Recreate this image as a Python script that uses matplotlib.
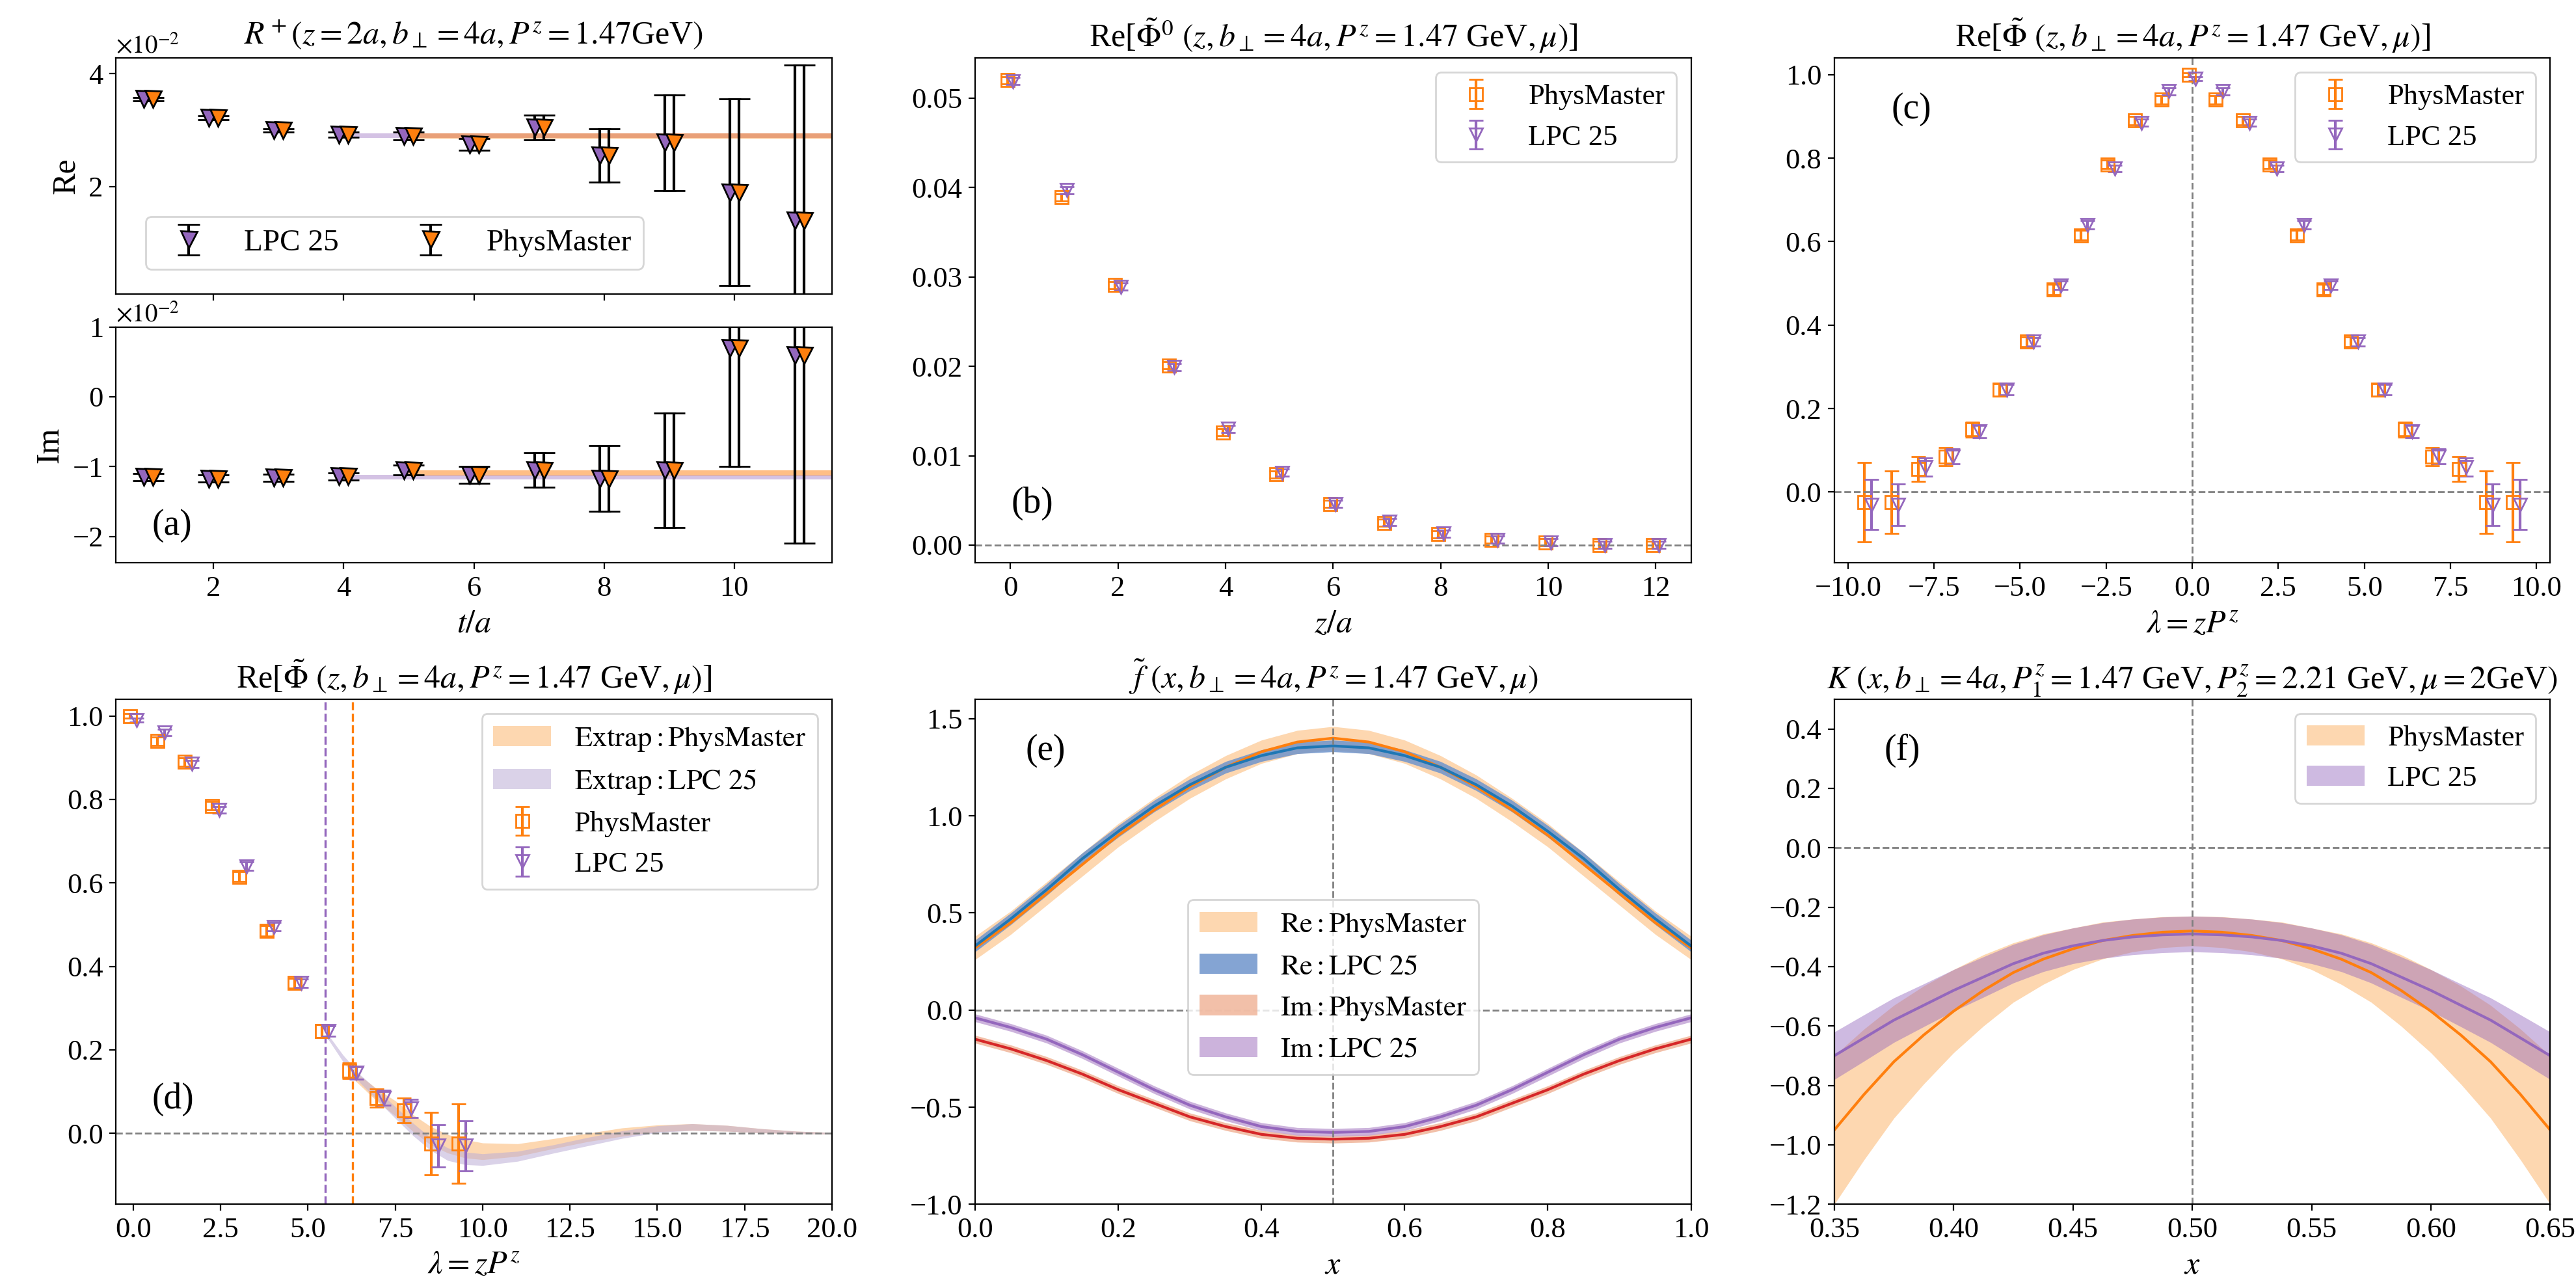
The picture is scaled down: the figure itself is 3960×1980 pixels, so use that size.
import numpy as np
import matplotlib.pyplot as plt

plt.rcParams['font.family'] = ['Liberation Serif', 'DejaVu Serif']
plt.rcParams['mathtext.fontset'] = 'stix'
plt.rcParams['font.size'] = 16
plt.rcParams['xtick.labelsize'] = 16
plt.rcParams['ytick.labelsize'] = 16

C_PM = 'tab:orange'
C_LPC = 'tab:purple'

# ---- panel (a): ratio R+ vs t/a (units of 1e-2)
t_a = np.arange(1, 12)
re_lpc = [3.55, 3.22, 3.00, 2.92, 2.90, 2.75, 3.05, 2.55, 2.78, 1.90, 1.40]
re_pm = [3.55, 3.22, 3.00, 2.92, 2.90, 2.75, 3.05, 2.55, 2.78, 1.90, 1.40]
re_err = [0.03, 0.03, 0.03, 0.05, 0.07, 0.10, 0.22, 0.47, 0.85, 1.65, 2.75]
im_lpc = [-1.15, -1.17, -1.16, -1.14, -1.05, -1.12, -1.05, -1.17, -1.05, 0.70, 0.60]
im_pm = [-1.15, -1.17, -1.16, -1.14, -1.05, -1.12, -1.05, -1.17, -1.05, 0.70, 0.60]
im_err = [0.05, 0.05, 0.05, 0.05, 0.07, 0.12, 0.25, 0.47, 0.82, 1.70, 2.70]
fit_re = {'LPC': (4, 2.90, 0.04), 'PM': (5, 2.90, 0.05)}
fit_im = {'LPC': (4, -1.15, 0.03), 'PM': (5, -1.09, 0.04)}

# ---- panel (b): bare matrix element vs z/a
z_a = np.arange(0, 13)
phi0_pm = [0.0520, 0.0389, 0.0291, 0.0201, 0.0126, 0.0079, 0.0046, 0.0025, 0.0012, 0.0006, 0.0003, 0.0000, 0.0000]
phi0_lpc = [0.0519, 0.0397, 0.0289, 0.0199, 0.0130, 0.0081, 0.0046, 0.0026, 0.0013, 0.0006, 0.0003, 0.0000, 0.0000]
phi0_err = [0.0004] * 13

# ---- panels (c),(d): normalized vs lambda
lam = z_a * 0.785
phi_pm = [1.000, 0.940, 0.890, 0.785, 0.615, 0.485, 0.360, 0.245, 0.150, 0.085, 0.055, -0.025, -0.025]
phi_lpc = [0.990, 0.960, 0.885, 0.775, 0.640, 0.495, 0.360, 0.245, 0.145, 0.085, 0.060, -0.030, -0.030]
phi_pm_err = [0.005, 0.010, 0.010, 0.010, 0.012, 0.012, 0.012, 0.015, 0.018, 0.022, 0.030, 0.075, 0.095]
phi_lpc_err = [0.005, 0.008, 0.008, 0.008, 0.010, 0.010, 0.010, 0.012, 0.015, 0.018, 0.022, 0.050, 0.060]

ext_lam_pm = [6.3, 7.0, 7.5, 8.0, 8.5, 9.0, 9.5, 10.0, 11.0, 12.0, 13.0, 14.0, 15.0, 16.0, 17.0, 18.0, 19.0, 20.0]
ext_pm = [0.140, 0.090, 0.060, 0.025, -0.005, -0.025, -0.037, -0.043, -0.040, -0.025, -0.010, 0.003, 0.012, 0.015, 0.012, 0.006, 0.002, 0.0]
ext_pm_w = [0.010, 0.015, 0.018, 0.020, 0.022, 0.022, 0.022, 0.020, 0.015, 0.012, 0.010, 0.010, 0.008, 0.008, 0.007, 0.005, 0.003, 0.002]
ext_lam_lpc = [5.5, 6.0, 6.5, 7.0, 7.5, 8.0, 8.5, 9.0, 9.5, 10.0, 11.0, 12.0, 13.0, 14.0, 15.0, 16.0, 17.0, 18.0, 19.0, 20.0]
ext_lpc = [0.240, 0.180, 0.130, 0.090, 0.050, 0.010, -0.025, -0.050, -0.060, -0.063, -0.055, -0.038, -0.020, -0.003, 0.010, 0.015, 0.012, 0.006, 0.002, 0.0]
ext_lpc_w = [0.005, 0.008, 0.010, 0.012, 0.014, 0.015, 0.015, 0.015, 0.015, 0.014, 0.012, 0.010, 0.010, 0.009, 0.008, 0.008, 0.007, 0.005, 0.003, 0.002]
lam_cut_lpc, lam_cut_pm = 5.5, 6.28

# ---- panel (e): quasi-TMDWF vs x (half, symmetric)
x_half = np.array([0.0, 0.05, 0.1, 0.15, 0.2, 0.25, 0.3, 0.35, 0.4, 0.45, 0.5])
re_f_pm = [0.32, 0.45, 0.60, 0.75, 0.90, 1.03, 1.15, 1.25, 1.33, 1.38, 1.40]
re_f_lpc = [0.33, 0.47, 0.62, 0.78, 0.92, 1.05, 1.16, 1.25, 1.31, 1.35, 1.36]
im_f_pm = [-0.15, -0.20, -0.26, -0.33, -0.41, -0.48, -0.55, -0.60, -0.64, -0.66, -0.665]
im_f_lpc = [-0.04, -0.09, -0.15, -0.23, -0.32, -0.41, -0.49, -0.55, -0.60, -0.625, -0.63]
re_f_pm_w, re_f_lpc_w, im_f_w = 0.06, 0.03, 0.02

# ---- panel (f): Collins-Soper kernel
x_k = np.array([0.35, 0.3625, 0.375, 0.3875, 0.4, 0.4125, 0.425, 0.4375, 0.45, 0.4625, 0.475, 0.4875, 0.5])
k_pm = [-0.95, -0.83, -0.72, -0.63, -0.55, -0.48, -0.42, -0.375, -0.34, -0.312, -0.295, -0.284, -0.28]
k_pm_w = [0.25, 0.22, 0.19, 0.165, 0.14, 0.12, 0.10, 0.085, 0.07, 0.062, 0.055, 0.052, 0.05]
k_lpc = [-0.70, -0.64, -0.58, -0.53, -0.48, -0.435, -0.39, -0.355, -0.33, -0.312, -0.30, -0.293, -0.29]
k_lpc_w = [0.08, 0.078, 0.075, 0.072, 0.07, 0.068, 0.065, 0.062, 0.06, 0.06, 0.06, 0.06, 0.06]


def mirror(xh, yh):
    xh = np.asarray(xh)
    return np.concatenate([xh, 1 - xh[-2::-1]]), np.concatenate([yh, np.asarray(yh)[-2::-1]])


fig = plt.figure(figsize=(19.8, 9.9), dpi=200)
gs = fig.add_gridspec(2, 3, left=0.045, right=0.99, top=0.955, bottom=0.065, wspace=0.2, hspace=0.27)

# (a)
sub = gs[0, 0].subgridspec(2, 1, hspace=0.14)
axr = fig.add_subplot(sub[0])
axi = fig.add_subplot(sub[1], sharex=axr)
for ax, yl, yp, ye, fit in [(axr, re_lpc, re_pm, re_err, fit_re), (axi, im_lpc, im_pm, im_err, fit_im)]:
    for key, col, a in [('LPC', C_LPC, 0.4), ('PM', C_PM, 0.5)]:
        t0, v, w = fit[key]
        ax.fill_between([t0, 11.5], v - w, v + w, color=col, alpha=a, lw=0)
    ax.errorbar(t_a - 0.07, yl, yerr=ye, fmt='v', color='k', mfc=C_LPC, mec='k', ms=9, capsize=6, label='LPC 25')
    ax.errorbar(t_a + 0.07, yp, yerr=ye, fmt='v', color='k', mfc=C_PM, mec='k', ms=9, capsize=6, label='PhysMaster')
    ax.text(0.0, 1.02, r'$\times10^{-2}$', transform=ax.transAxes, fontsize=14)
axr.set_ylim(0.1, 4.28)
axr.set_yticks([2, 4])
axr.set_ylabel('Re', fontsize=18)
axr.legend(loc='lower left', ncol=2, fontsize=17, bbox_to_anchor=(0.02, 0.04))
axr.set_title(r'$R^+(z=2a, b_\perp=4a, P^z=1.47$GeV$)$', fontsize=18, pad=8)
axr.tick_params(labelbottom=False)
axi.set_ylim(-2.38, 1)
axi.set_yticks([-2, -1, 0, 1])
axi.set_ylabel('Im', fontsize=18)
axi.set_xlim(0.5, 11.5)
axi.set_xticks([2, 4, 6, 8, 10])
axi.set_xlabel(r'$t/a$', fontsize=18)
axi.text(0.05, 0.12, '(a)', transform=axi.transAxes, fontsize=20)

# (b)
axb = fig.add_subplot(gs[0, 1])
axb.errorbar(z_a - 0.05, phi0_pm, yerr=phi0_err, fmt='s', mfc='none', color=C_PM, ms=7, capsize=4, label='PhysMaster')
axb.errorbar(z_a + 0.05, phi0_lpc, yerr=phi0_err, fmt='v', mfc='none', color=C_LPC, ms=7, capsize=4, label='LPC 25')
axb.axhline(0, color='gray', ls='--', lw=1)
axb.set_xlabel(r'$z/a$', fontsize=18)
axb.set_xticks(range(0, 13, 2))
axb.set_ylim(-0.002, 0.0545)
axb.legend(loc='upper right', fontsize=16)
axb.set_title(r'Re[$\tilde{\Phi}^0$ $(z, b_\perp=4a, P^z=1.47$ GeV$, \mu)$]', fontsize=18)
axb.text(0.05, 0.1, '(b)', transform=axb.transAxes, fontsize=20)

# (c)
axc = fig.add_subplot(gs[0, 2])
lam_all = np.concatenate([-lam[::-1], lam[1:]])
pm_all = np.concatenate([phi_pm[::-1], phi_pm[1:]])
lpc_all = np.concatenate([phi_lpc[::-1], phi_lpc[1:]])
pme_all = np.concatenate([phi_pm_err[::-1], phi_pm_err[1:]])
lpce_all = np.concatenate([phi_lpc_err[::-1], phi_lpc_err[1:]])
axc.errorbar(lam_all - 0.1, pm_all, yerr=pme_all, fmt='s', mfc='none', color=C_PM, ms=7, capsize=4, label='PhysMaster')
axc.errorbar(lam_all + 0.1, lpc_all, yerr=lpce_all, fmt='v', mfc='none', color=C_LPC, ms=7, capsize=4, label='LPC 25')
axc.axhline(0, color='gray', ls='--', lw=1)
axc.axvline(0, color='gray', ls='--', lw=1)
axc.set_xlim(-10.4, 10.4)
axc.set_xticks(np.arange(-10, 10.1, 2.5))
axc.set_ylim(-0.17, 1.04)
axc.set_xlabel(r'$\lambda=zP^z$', fontsize=18)
axc.legend(loc='upper right', fontsize=16)
axc.set_title(r'Re[$\tilde{\Phi}$ $(z, b_\perp=4a, P^z=1.47$ GeV$, \mu)$]', fontsize=18)
axc.text(0.08, 0.88, '(c)', transform=axc.transAxes, fontsize=20)

# (d)
axd = fig.add_subplot(gs[1, 0])
axd.fill_between(ext_lam_pm, np.array(ext_pm) - ext_pm_w, np.array(ext_pm) + ext_pm_w, color='#fdd0a2', alpha=0.85, lw=0, label=r'$\mathrm{Extrap: PhysMaster}$')
axd.fill_between(ext_lam_lpc, np.array(ext_lpc) - ext_lpc_w, np.array(ext_lpc) + ext_lpc_w, color='#bcaed6', alpha=0.55, lw=0, label=r'$\mathrm{Extrap: LPC\ 25}$')
axd.errorbar(lam - 0.1, phi_pm, yerr=phi_pm_err, fmt='s', mfc='none', color=C_PM, ms=7, capsize=4, label='PhysMaster')
axd.errorbar(lam + 0.1, phi_lpc, yerr=phi_lpc_err, fmt='v', mfc='none', color=C_LPC, ms=7, capsize=4, label='LPC 25')
axd.axhline(0, color='gray', ls='--', lw=1)
axd.axvline(lam_cut_lpc, color=C_LPC, ls='--', lw=1.2)
axd.axvline(lam_cut_pm, color=C_PM, ls='--', lw=1.2)
axd.set_xlim(-0.5, 20)
axd.set_xticks(np.arange(0, 20.1, 2.5))
axd.set_ylim(-0.17, 1.04)
axd.set_xlabel(r'$\lambda=zP^z$', fontsize=18)
axd.legend(loc='upper right', fontsize=16)
axd.set_title(r'Re[$\tilde{\Phi}$ $(z, b_\perp=4a, P^z=1.47$ GeV$, \mu)$]', fontsize=18)
axd.text(0.05, 0.19, '(d)', transform=axd.transAxes, fontsize=20)

# (e)
axe = fig.add_subplot(gs[1, 1])
for yh, w, fc, lc, lab in [(re_f_pm, re_f_pm_w, '#fdd0a2', C_PM, r'$\mathrm{Re: PhysMaster}$'),
                           (re_f_lpc, re_f_lpc_w, '#6f94cc', 'tab:blue', r'$\mathrm{Re: LPC\ 25}$'),
                           (im_f_pm, im_f_w, '#f0b59a', 'tab:red', r'$\mathrm{Im: PhysMaster}$'),
                           (im_f_lpc, im_f_w, '#c3a6d6', C_LPC, r'$\mathrm{Im: LPC\ 25}$')]:
    xs, ys = mirror(x_half, yh)
    axe.fill_between(xs, ys - w, ys + w, color=fc, alpha=0.85, lw=0, label=lab)
    axe.plot(xs, ys, color=lc, lw=1.5)
axe.axhline(0, color='gray', ls='--', lw=1)
axe.axvline(0.5, color='gray', ls='--', lw=1)
axe.set_xlim(0, 1)
axe.set_ylim(-1, 1.6)
axe.set_xlabel(r'$x$', fontsize=18)
axe.legend(loc='center', bbox_to_anchor=(0.5, 0.43), fontsize=16)
axe.set_title(r'$\tilde{f}$ $(x, b_\perp=4a, P^z=1.47$ GeV$, \mu)$', fontsize=18)
axe.text(0.07, 0.88, '(e)', transform=axe.transAxes, fontsize=20)

# (f)
axf = fig.add_subplot(gs[1, 2])
xs, ys = mirror(x_k, k_pm)
_, ws = mirror(x_k, k_pm_w)
axf.fill_between(xs, ys - ws, ys + ws, color='#fdd0a2', alpha=0.85, lw=0, label='PhysMaster')
axf.plot(xs, ys, color=C_PM, lw=1.5)
xs, ys = mirror(x_k, k_lpc)
_, ws = mirror(x_k, k_lpc_w)
axf.fill_between(xs, ys - ws, ys + ws, color=C_LPC, alpha=0.45, lw=0, label='LPC 25')
axf.plot(xs, ys, color=C_LPC, lw=1.5)
axf.axhline(0, color='gray', ls='--', lw=1)
axf.axvline(0.5, color='gray', ls='--', lw=1)
axf.set_xlim(0.35, 0.65)
axf.set_ylim(-1.2, 0.5)
axf.set_yticks(np.arange(-1.2, 0.41, 0.2))
axf.set_xlabel(r'$x$', fontsize=18)
axf.legend(loc='upper right', fontsize=16)
axf.set_title(r'$K$ $(x, b_\perp=4a, P_1^z=1.47$ GeV$, P_2^z=2.21$ GeV$, \mu=2$GeV$)$', fontsize=18)
axf.text(0.07, 0.88, '(f)', transform=axf.transAxes, fontsize=20)

fig.savefig('out.png', dpi=200)
